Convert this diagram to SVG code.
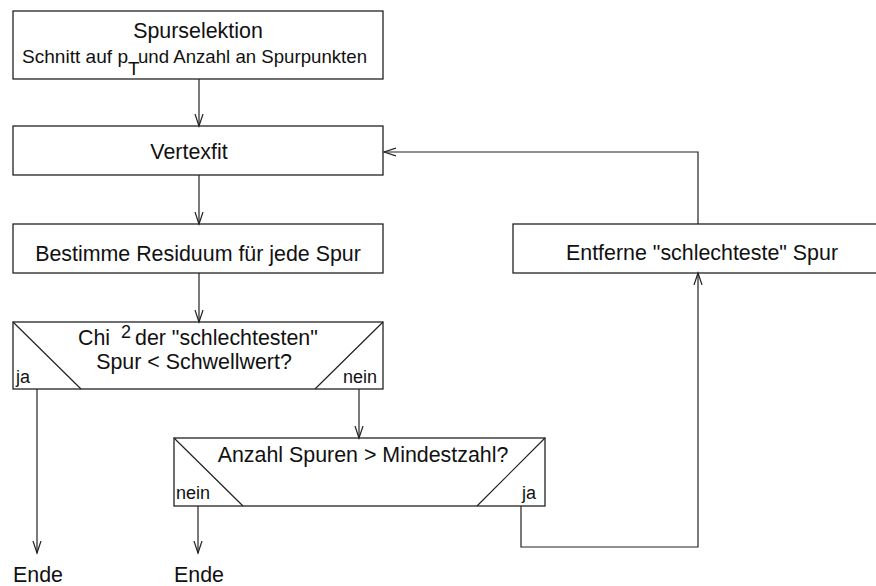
<svg xmlns="http://www.w3.org/2000/svg" width="876" height="586" viewBox="0 0 876 586">
<style>
.box{fill:#fff;stroke:#222;stroke-width:1.3}
.diag{fill:none;stroke:#222;stroke-width:1.2}
.t{font-family:"Liberation Sans",Arial,sans-serif;font-size:21.4px;fill:#111}
.s{font-family:"Liberation Sans",Arial,sans-serif;font-size:19px;fill:#111}
.l{font-family:"Liberation Sans",Arial,sans-serif;font-size:18px;fill:#111}
.c{fill:none;stroke:#222;stroke-width:1.2}
</style>
<defs>
<marker id="ah" markerWidth="14" markerHeight="10" refX="12" refY="5" orient="auto" markerUnits="userSpaceOnUse">
<path d="M0,1 L12,5 L0,9" fill="none" stroke="#222" stroke-width="1.2"/>
</marker>
</defs>
<g id="n1">
<rect class="box" x="13" y="11" width="370" height="68"/>
<text class="t" x="198" y="38" text-anchor="middle">Spurselektion</text>
<text class="s" x="22" y="63" textLength="106" lengthAdjust="spacingAndGlyphs">Schnitt auf p</text>
<text class="s" x="128" y="75" font-size="16">T</text>
<text class="s" x="138" y="63" textLength="229" lengthAdjust="spacingAndGlyphs">und Anzahl an Spurpunkten</text>
</g>
<g id="n2">
<rect class="box" x="13" y="126" width="370" height="49"/>
<text class="t" x="189" y="159" text-anchor="middle">Vertexfit</text>
</g>
<g id="n3">
<rect class="box" x="13" y="224" width="370" height="49"/>
<text class="t" x="198" y="261" text-anchor="middle">Bestimme Residuum für jede Spur</text>
</g>
<g id="n4">
<rect class="box" x="513" y="224" width="370" height="49"/>
<text class="t" x="702" y="260" text-anchor="middle">Entferne "schlechteste" Spur</text>
</g>
<g id="d1">
<rect class="box" x="13" y="322" width="370" height="67"/>
<path class="diag" d="M13,322 L81,389 M315,389 L383,322"/>
<text class="t" x="78" y="345">Chi</text>
<text class="l" x="121" y="338" font-size="15">2</text>
<text class="t" x="135" y="345">der "schlechtesten"</text>
<text class="t" x="194" y="369" text-anchor="middle">Spur &lt; Schwellwert?</text>
<text class="l" x="16" y="383">ja</text>
<text class="l" x="343" y="383">nein</text>
</g>
<g id="d2">
<rect class="box" x="174" y="438" width="371" height="68"/>
<path class="diag" d="M174,438 L243,506 M477,506 L545,438"/>
<text class="t" x="363" y="462" text-anchor="middle">Anzahl Spuren &gt; Mindestzahl?</text>
<text class="l" x="176" y="499">nein</text>
<text class="l" x="522" y="499">ja</text>
</g>
<g id="e1">
<text class="t" x="13" y="582">Ende</text>
</g>
<g id="e2">
<text class="t" x="174" y="582">Ende</text>
</g>
<g id="connectors">
<path class="c" d="M199,79 L199,126" marker-end="url(#ah)"/>
<path class="c" d="M199,175 L199,224" marker-end="url(#ah)"/>
<path class="c" d="M199,273 L199,322" marker-end="url(#ah)"/>
<path class="c" d="M359,389 L359,438" marker-end="url(#ah)"/>
<path class="c" d="M37,389 L37,553" marker-end="url(#ah)"/>
<path class="c" d="M198,506 L198,553" marker-end="url(#ah)"/>
<path class="c" d="M521,506 L521,547 L698,547 L698,273" marker-end="url(#ah)"/>
<path class="c" d="M698,224 L698,152 L384,152" marker-end="url(#ah)"/>
</g>
</svg>
